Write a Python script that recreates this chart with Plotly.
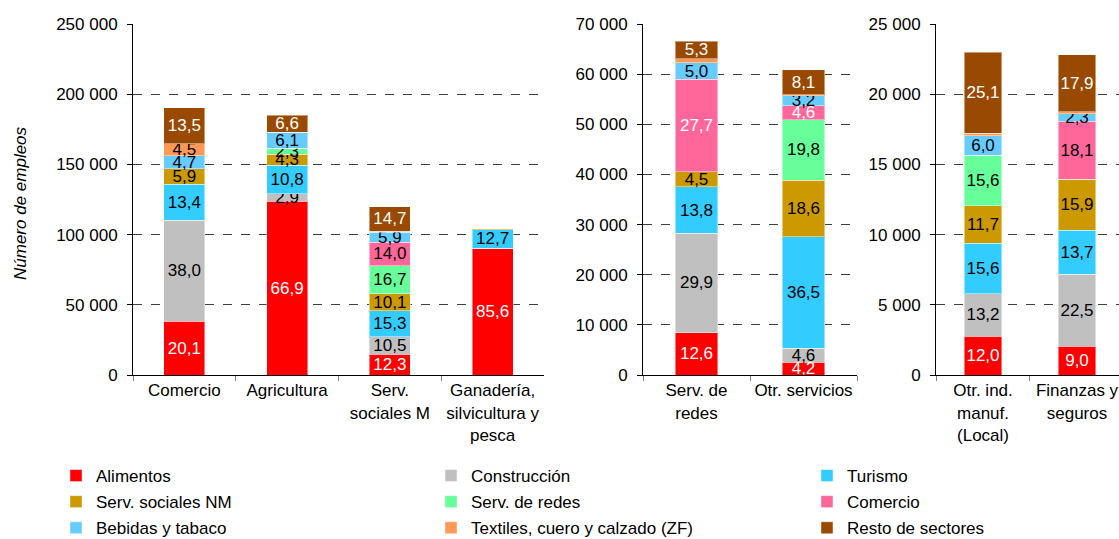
import plotly.graph_objects as go

W, H = 1119, 539

sectors = ["Alimentos", "Construcción", "Turismo", "Serv. sociales NM", "Serv. de redes",
           "Comercio", "Bebidas y tabaco", "Textiles, cuero y calzado (ZF)", "Resto de sectores"]
colors = ["#FF0000", "#C0C0C0", "#33CCFF", "#CC9900", "#66FF99",
          "#FF6699", "#66CCFF", "#FF9955", "#994A00"]
label_colors = ["white", "black", "black", "black", "black",
                "black", "black", "black", "white"]
comercio_label_color = ["black", "white", "black"]

# Panel 1
cats1 = ["Comercio", "Agricultura", "Serv.<br>sociales M", "Ganadería,<br>silvicultura y<br>pesca"]
totals1 = [190000, 185200, 120000, 105000]
pct1 = {
    "Alimentos":                       [20.1, 66.9, 12.3, 85.6],
    "Construcción":                    [38.0, 2.9, 10.5, 0.4],
    "Turismo":                         [13.4, 10.8, 15.3, 12.7],
    "Serv. sociales NM":               [5.9, 4.3, 10.1, 1.0],
    "Serv. de redes":                  [0.0, 2.3, 16.7, 0.0],
    "Comercio":                        [0.0, 0.0, 14.0, 0.0],
    "Bebidas y tabaco":                [4.7, 6.1, 5.9, 0.0],
    "Textiles, cuero y calzado (ZF)":  [4.5, 0.0, 0.5, 0.0],
    "Resto de sectores":               [13.5, 6.6, 14.7, 0.3],
}
# Panel 2
cats2 = ["Serv. de<br>redes", "Otr. servicios"]
totals2 = [66600, 60850]
pct2 = {
    "Alimentos":                       [12.6, 4.2],
    "Construcción":                    [29.9, 4.6],
    "Turismo":                         [13.8, 36.5],
    "Serv. sociales NM":               [4.5, 18.6],
    "Serv. de redes":                  [0.0, 19.8],
    "Comercio":                        [27.7, 4.6],
    "Bebidas y tabaco":                [5.0, 3.2],
    "Textiles, cuero y calzado (ZF)":  [1.2, 0.4],
    "Resto de sectores":               [5.3, 8.1],
}
# Panel 3
cats3 = ["Otr. ind.<br>manuf.<br>(Local)", "Finanzas y<br>seguros"]
totals3 = [22990, 22820]
pct3 = {
    "Alimentos":                       [12.0, 9.0],
    "Construcción":                    [13.2, 22.5],
    "Turismo":                         [15.6, 13.7],
    "Serv. sociales NM":               [11.7, 15.9],
    "Serv. de redes":                  [15.6, 0.0],
    "Comercio":                        [0.0, 18.1],
    "Bebidas y tabaco":                [6.0, 2.3],
    "Textiles, cuero y calzado (ZF)":  [0.8, 0.6],
    "Resto de sectores":               [25.1, 17.9],
}
# labels shown (small unlabeled slivers are hidden)
min_label = 2.0

panels = [(cats1, totals1, pct1, "x", "y"),
          (cats2, totals2, pct2, "x2", "y2"),
          (cats3, totals3, pct3, "x3", "y3")]

FONT = "Liberation Sans, Arial, sans-serif"
FS = 17

fig = go.Figure()
for p, (cats, totals, pct, xa, ya) in enumerate(panels):
    for i, s in enumerate(sectors):
        vals = [t * v / 100 for t, v in zip(totals, pct[s])]
        txt = [("%.1f" % v).replace(".", ",") if v >= min_label else "" for v in pct[s]]
        tc = comercio_label_color[p] if s == "Comercio" else label_colors[i]
        leg = ["legend", "legend2", "legend3"][i % 3]
        fig.add_trace(go.Bar(
            x=cats, y=vals, name=s, xaxis=xa, yaxis=ya,
            marker=dict(color=colors[i], line=dict(color="rgba(255,255,255,0.45)", width=1)),
            width=0.4, text=txt, textposition="inside", insidetextanchor="middle",
            textangle=0, textfont=dict(color=tc, size=FS, family=FONT),
            legendgroup=s, showlegend=(p == 0), legend=leg,
            hoverinfo="skip",
        ))

def px_x(v):
    return v / W

def px_y(v):
    return (H - v) / H

ydom = [px_y(375), px_y(24)]
xdoms = [[px_x(133), px_x(544)], [px_x(643), px_x(857)], [px_x(936), 1.0]]
yranges = [[0, 250000], [0, 70000], [0, 25000]]
dticks = [50000, 10000, 5000]
xranges = [[-0.5, 3.5], [-0.5, 1.5], [-0.5, 1.447]]

common_x = dict(showline=True, linecolor="black", linewidth=1, ticks="outside",
                tickson="boundaries", ticklen=5, tickcolor="#808080", tickangle=0,
                tickfont=dict(size=FS, color="black", family=FONT), automargin=False,
                showgrid=False, fixedrange=True, type="category")
common_y = dict(showline=True, linecolor="black", linewidth=1, ticks="outside",
                ticklen=5, tickcolor="black", tickformat=",d", automargin=False,
                tickfont=dict(size=FS, color="black", family=FONT),
                showgrid=True, gridcolor="#404040", griddash="dash", gridwidth=1,
                zeroline=False, fixedrange=True, ticklabelstandoff=6)

for k in range(3):
    sx = "" if k == 0 else str(k + 1)
    fig.update_layout(**{
        "xaxis" + sx: dict(common_x, domain=xdoms[k], range=xranges[k], anchor="y" + sx),
        "yaxis" + sx: dict(common_y, domain=ydom, range=yranges[k], dtick=dticks[k], anchor="x" + sx),
    })

legend_common = dict(orientation="v", traceorder="grouped", yanchor="top", xanchor="left",
                     bgcolor="rgba(0,0,0,0)", font=dict(size=FS, color="black", family=FONT),
                     tracegroupgap=1, itemclick=False, itemdoubleclick=False)
fig.update_layout(
    legend=dict(legend_common, x=px_x(56), y=px_y(458)),
    legend2=dict(legend_common, x=px_x(431), y=px_y(458)),
    legend3=dict(legend_common, x=px_x(807), y=px_y(458)),
)

fig.add_annotation(text="<i>Número de empleos</i>", x=px_x(20), y=px_y(203),
                   xref="paper", yref="paper", textangle=-90, showarrow=False,
                   font=dict(size=FS, color="black", family=FONT),
                   xanchor="center", yanchor="middle")

fig.update_layout(
    width=W, height=H, barmode="stack", separators=", ",
    margin=dict(l=0, r=0, t=0, b=0, autoexpand=False),
    plot_bgcolor="white", paper_bgcolor="white",
    font=dict(family=FONT, size=FS, color="black"),
    uniformtext=dict(minsize=FS, mode="show"),
    showlegend=True,
)

fig.write_html("out.html", config={"displayModeBar": False},
               post_script="document.body.style.margin='0';document.body.style.overflow='hidden';")
